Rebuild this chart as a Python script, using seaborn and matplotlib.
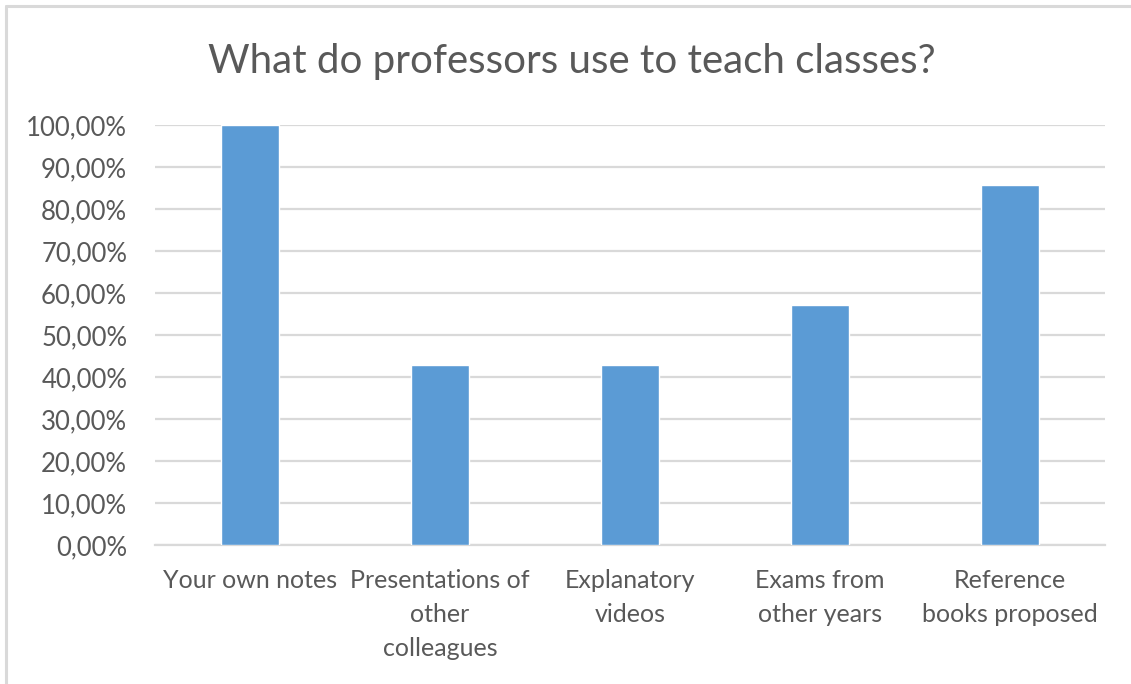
import matplotlib
matplotlib.use("Agg")
import matplotlib.pyplot as plt
from matplotlib.lines import Line2D
from matplotlib.ticker import FuncFormatter, MultipleLocator
import pandas as pd
import seaborn as sns

categories = [
    "Your own notes",
    "Presentations of\nother\ncolleagues",
    "Explanatory\nvideos",
    "Exams from\nother years",
    "Reference\nbooks proposed",
]
shares = [100.0, 42.86, 42.86, 57.14, 85.71]
title = "What do professors use to teach classes?"

bar_color = "#5B9BD5"
grid_color = "#D9D9D9"
text_color = "#595959"

sns.set_theme(style="white")
plt.rcParams["font.family"] = ["Lato", "DejaVu Sans"]

df = pd.DataFrame({"category": categories, "share": shares})

fig = plt.figure(figsize=(11.31, 6.84), dpi=100)
ax = fig.add_axes([155 / 1131, 1 - 545 / 684, 950 / 1131, 420 / 684])

sns.barplot(data=df, x="category", y="share", color=bar_color,
            saturation=1, width=0.305, ax=ax, zorder=3)

ax.set_ylim(0, 100)
ax.set_xlim(-0.5, len(categories) - 0.5)
ax.yaxis.set_major_locator(MultipleLocator(10))
ax.yaxis.set_major_formatter(FuncFormatter(lambda v, _: f"{v:.2f}%".replace(".", ",")))
ax.grid(axis="y", color=grid_color, linewidth=1.6, zorder=0)
ax.set_axisbelow(True)
for side in ["top", "right", "left"]:
    ax.spines[side].set_visible(False)
ax.spines["bottom"].set_color(grid_color)
ax.spines["bottom"].set_linewidth(1.6)
ax.set_xlabel("")
ax.set_ylabel("")
ax.tick_params(axis="y", length=0, pad=20, labelsize=18.5, labelcolor=text_color)
ax.tick_params(axis="x", length=0, pad=17, labelsize=18, labelcolor=text_color)
for lbl in ax.get_xticklabels():
    lbl.set_linespacing(1.6)
    lbl.set_verticalalignment("top")

fig.text(572 / 1131, 1 - 62 / 684, title, ha="center", va="center",
         fontsize=29, color=text_color)

# chart frame along the top and left edges
fig.add_artist(Line2D([6 / 1131, 1], [1 - 6 / 684, 1 - 6 / 684],
                      transform=fig.transFigure, color=grid_color, linewidth=2.2))
fig.add_artist(Line2D([6 / 1131, 6 / 1131], [0, 1 - 6 / 684],
                      transform=fig.transFigure, color=grid_color, linewidth=2.2))

fig.savefig("out.png", dpi=100, facecolor="white")
